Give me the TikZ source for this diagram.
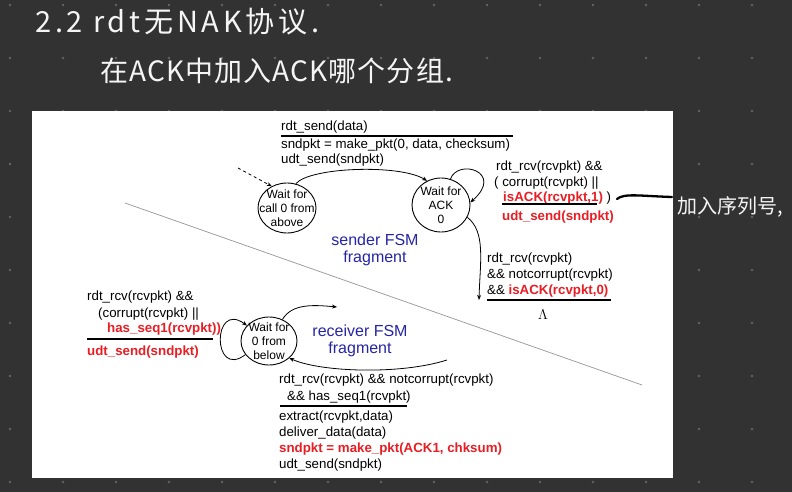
\documentclass[tikz,border=0pt]{standalone}
\usepackage{fontspec}
\setmainfont{Liberation Sans}
\newfontfamily\cjk{Noto Sans CJK SC}
\usetikzlibrary{arrows.meta,shapes.geometric}
\definecolor{bg}{RGB}{50,50,50}
\definecolor{dotc}{RGB}{100,100,100}
\definecolor{rred}{RGB}{232,30,36}
\definecolor{fsmblue}{RGB}{38,38,165}
\definecolor{hand}{RGB}{245,245,245}
\definecolor{diag}{RGB}{150,150,150}
\begin{document}
\begin{tikzpicture}[x=1pt,y=-1pt,
  fsmstate/.style={ellipse,draw,line width=0.9pt,inner sep=0pt},
  stxt/.style={align=center,inner sep=0pt,font=\fontsize{12}{14}\selectfont},
  lbl/.style={anchor=base west,inner sep=0pt,font=\fontsize{13.3}{16}\selectfont},
  rlbl/.style={lbl,text=rred,font=\fontsize{13.3}{16}\selectfont\bfseries},
  bluet/.style={anchor=base,inner sep=0pt,text=fsmblue,font=\fontsize{16}{18}\selectfont},
  edge/.style={line width=0.8pt,-{Stealth[length=5pt,width=4pt]}},
  rule/.style={line width=1.1pt},
  handt/.style={inner sep=0pt,text=hand}
]
\useasboundingbox (0,0) rectangle (792,492);
\fill[bg] (0,0) rectangle (792,492);
\foreach \i in {0,...,14}{\foreach \j in {0,...,9}{
  \fill[dotc] ({10+53*\i},{5+53*\j}) circle (1.4pt);}}
% slide
\fill[white] (32,111) rectangle (673,478);

% handwritten notes
\node[handt,anchor=base west,font=\cjk\fontsize{29}{32}\selectfont\addfontfeature{LetterSpace=13}] (h1) at (35,33) {2.2 rdt无NAK协议.};
\node[handt,anchor=base west,font=\cjk\fontsize{28}{31}\selectfont\addfontfeature{LetterSpace=4}] (h2) at (100,82) {在ACK中加入ACK哪个分组.};
\node[handt,anchor=west,font=\cjk\fontsize{20}{22}\selectfont] (h3) at (677,207) {加入序列号,};

% diagonal divider
\coordinate (dg1) at (125,203);
\coordinate (dg2) at (642,385);
\draw[diag,line width=0.7pt] (dg1) -- (dg2);

% states
\node[fsmstate,minimum width=58pt,minimum height=50pt] (s1) at (287,208) {};
\node[stxt] (s1t) at (s1.center) {Wait for\\call 0 from\\above};
\node[fsmstate,minimum width=58pt,minimum height=54pt] (s2) at (441,205) {};
\node[stxt] (s2t) at (s2.center) {Wait for\\ACK\\0};
\node[fsmstate,minimum width=56pt,minimum height=48pt] (r1) at (269,341) {};
\node[stxt] (r1t) at (r1.center) {Wait for\\0 from\\below};

% sender edges
\coordinate (d0) at (238,168);
\draw[edge,dashed] (d0) -- (s1.125);
\draw[edge] (s1.70) .. controls (310,167) and (400,164) .. (s2.120);
\draw[edge] (s2.70) .. controls (458,158) and (505,172) .. (s2.5);
\coordinate (a0) at (479,300);
\draw[edge] (s2.-25) .. controls (486,232) and (480,262) .. (a0);

% receiver edges
\draw[edge] (r1.210) .. controls (212,380) and (212,300) .. (r1.145);
\coordinate (rt) at (337,307);
\draw[edge] (r1.58) .. controls (292,303) and (315,305) .. (rt);
\coordinate (rb) at (447,360);
\draw[edge] (rb) .. controls (400,375) and (320,372) .. (r1.-40);

% sender top label
\node[lbl] (l1) at (281,131) {rdt\_send(data)};
\coordinate (u1a) at (281,136); \coordinate (u1b) at (513,136);
\draw[rule] (u1a) -- (u1b);
\node[lbl] (l2) at (281,148) {sndpkt = make\_pkt(0, data, checksum)};
\node[lbl] (l3) at (281,164) {udt\_send(sndpkt)};

% sender self-loop label
\node[lbl] (m1) at (496,170) {rdt\_rcv(rcvpkt) \&\&};
\node[lbl] (m2) at (494,186) {( corrupt(rcvpkt) ||};
\node[lbl] (m3) at (503,201) {\textcolor{rred}{\bfseries isACK(rcvpkt,1)} )};
\coordinate (u2a) at (502,204); \coordinate (u2b) at (597,204);
\draw[rule] (u2a) -- (u2b);
\node[rlbl] (m4) at (502,220) {udt\_send(sndpkt)};

% sender down label
\node[lbl] (n1) at (487,262) {rdt\_rcv(rcvpkt)};
\node[lbl] (n2) at (487,278) {\&\& notcorrupt(rcvpkt)};
\node[lbl] (n3) at (487,294) {\&\& \textcolor{rred}{\bfseries isACK(rcvpkt,0)}};
\coordinate (u3a) at (487,300); \coordinate (u3b) at (611,300);
\draw[rule] (u3a) -- (u3b);
\node[inner sep=0pt,font=\fontsize{14}{16}\selectfont] (lam) at (543,315) {$\Lambda$};

% receiver self-loop label
\node[lbl] (k1) at (87,300) {rdt\_rcv(rcvpkt) \&\&};
\node[lbl] (k2) at (98,317) {(corrupt(rcvpkt) ||};
\node[rlbl] (k3) at (107,332) {has\_seq1(rcvpkt))};
\coordinate (u4a) at (87,339); \coordinate (u4b) at (213,339);
\draw[rule] (u4a) -- (u4b);
\node[rlbl] (k4) at (87,355) {udt\_send(sndpkt)};

% receiver bottom label
\node[lbl] (b1) at (279,383) {rdt\_rcv(rcvpkt) \&\& notcorrupt(rcvpkt)};
\node[lbl] (b2) at (287,400) {\&\& has\_seq1(rcvpkt)};
\coordinate (u5a) at (280,406); \coordinate (u5b) at (407,406);
\draw[rule] (u5a) -- (u5b);
\node[lbl] (b3) at (279,420) {extract(rcvpkt,data)};
\node[lbl] (b4) at (279,436) {deliver\_data(data)};
\node[rlbl] (b5) at (279,452) {sndpkt = make\_pkt(ACK1, chksum)};
\node[lbl] (b6) at (279,468) {udt\_send(sndpkt)};

% blue captions
\node[bluet] (f1) at (375,245) {sender FSM};
\node[bluet] (f2) at (375,262) {fragment};
\node[bluet] (f3) at (360,336) {receiver FSM};
\node[bluet] (f4) at (360,353) {fragment};

% annotation stroke
\coordinate (an1) at (617,199);
\coordinate (an2) at (672,197);
\draw[line width=2.3pt,line cap=round] (an1) .. controls (624,193) and (640,196) .. (an2);
\end{tikzpicture}
\end{document}
